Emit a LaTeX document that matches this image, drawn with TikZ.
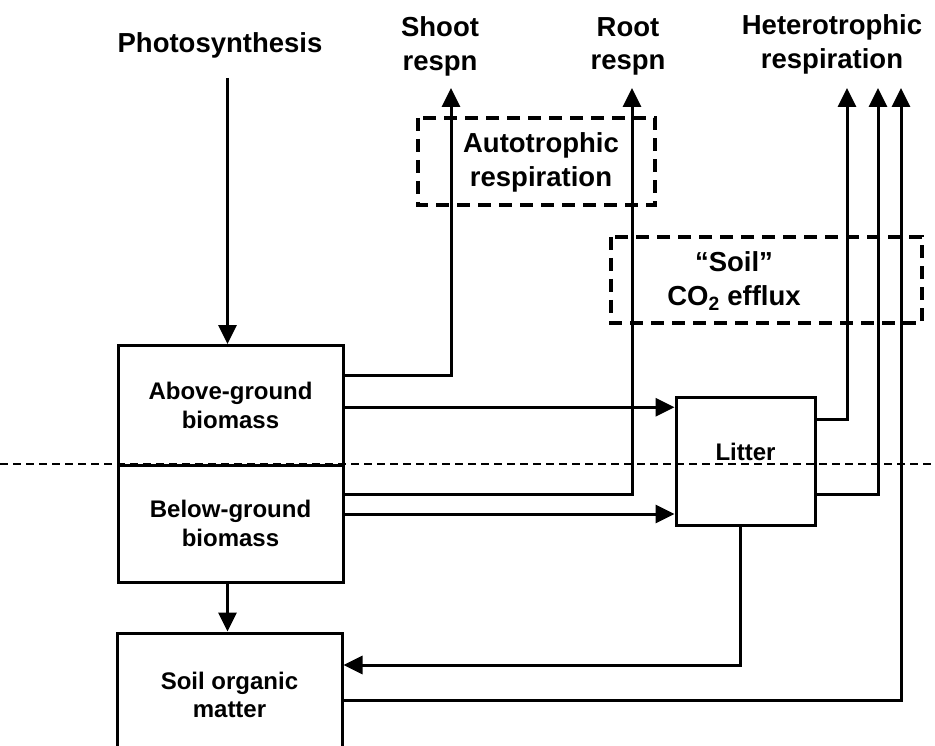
\documentclass[tikz,border=0pt]{standalone}
\usepackage{fontspec}
\setmainfont{Liberation Sans}
\usetikzlibrary{arrows.meta}

\tikzset{
    flow/.style={line width=3pt, -{Triangle[length=19pt,width=18pt]}},
    pool/.style={draw, line width=3pt, align=center, inner sep=0pt,
        font=\bfseries\fontsize{24}{28.5}\selectfont},
    flux/.style={align=center, inner sep=0pt,
        font=\bfseries\fontsize{27.5}{33.5}\selectfont},
    zone/.style={line width=3.5pt, dash pattern=on 13pt off 8pt},
    ground/.style={line width=1.4pt, dash pattern=on 8pt off 5pt},
}

\begin{document}
\begin{tikzpicture}[x=1pt, y=-1pt]
    \useasboundingbox (0,0) rectangle (935,746);
    \draw[ground] (0,464) -- (935,464);
    \node[pool, minimum width=225pt, minimum height=119.5pt] (above) at (230.5,405.25) {Above-ground\\biomass};
    \node[pool, minimum width=225pt, minimum height=117pt] (below) at (230.5,523.5) {Below-ground\\biomass};
    \node[pool, minimum width=225pt, minimum height=124pt] (soil) at (229.5,695) {Soil organic\\matter};
    \node[pool, minimum width=139pt, minimum height=128pt] (litter) at (745.5,461) {};
    \node[pool, draw=none] (litterlab) at ([yshift=9pt]litter.center) {Litter};
    \node[flux, anchor=base] (photo) at (220,53) {Photosynthesis};
    \node[flux] (shoot) at (440,46.5) {Shoot\\respn};
    \node[flux] (root) at (628,46.5) {Root\\respn};
    \node[flux] (hetero) at (832,44.5) {Heterotrophic\\respiration};
    \draw[zone] (418,118) rectangle (655,205);
    \node[flux] (auto) at (541,162.5) {Autotrophic\\respiration};
    \draw[zone] (611,237) rectangle (922,323);
    \node[flux] (efflux) at (734,281) {“Soil”\\CO\textsubscript{2} efflux};
    \foreach \name/\x in {tipS/451, tipR/632, tipA/847, tipB/878, tipC/901}
        \coordinate (\name) at (\x,88);
    \coordinate (photoin) at ([xshift=-3pt]above.north);
    \coordinate (soilin) at ([xshift=-3pt]below.south);
    \draw[flow] ([yshift=-25pt]photo.base -| photoin) -- (photoin);
    \draw[flow] (soilin) -- (soilin |- soil.north);
    \draw[flow] ([yshift=30pt]above.east) -| (tipS);
    \draw[flow] ([yshift=-2pt]above.east) -- ([yshift=-2pt]above.east -| litter.west);
    \draw[flow] ([yshift=29.5pt]below.east) -| (tipR);
    \draw[flow] ([yshift=9.5pt]below.east) -- ([yshift=9.5pt]below.east -| litter.west);
    \draw[flow] ([yshift=42pt]litter.east) -| (tipA);
    \draw[flow] ([yshift=-33pt]litter.east) -| (tipB);
    \draw[flow] ([xshift=-5pt]litter.south) |- ([yshift=30pt]soil.east);
    \draw[flow] ([yshift=-5pt]soil.east) -| (tipC);
\end{tikzpicture}
\end{document}
